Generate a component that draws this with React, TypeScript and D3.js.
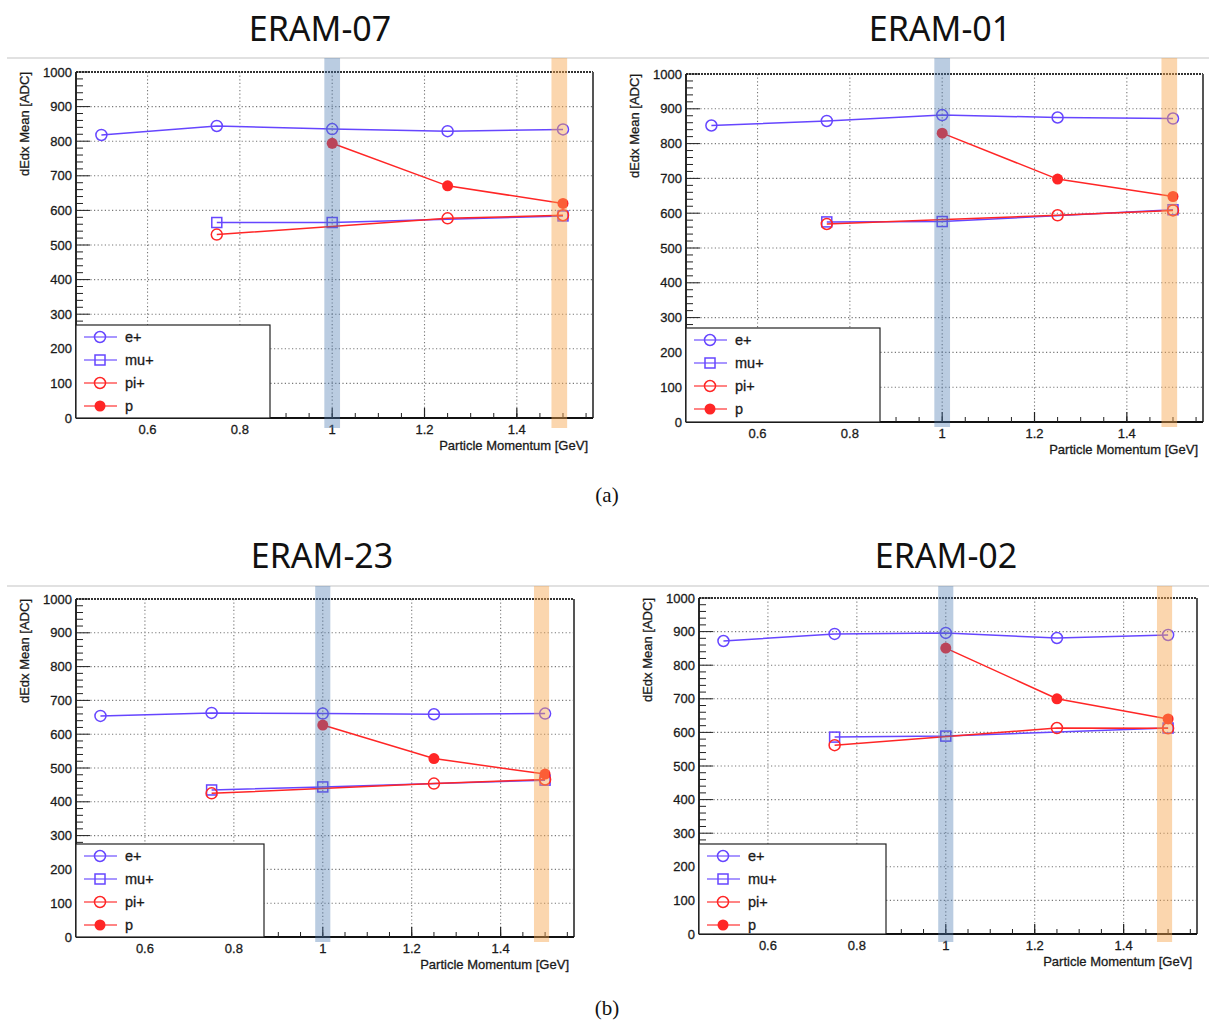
import * as d3 from "d3";

// particle momenta [GeV] at which each species was measured
const momentumE = [0.5, 0.75, 1.0, 1.25, 1.5];
const momentumMu = [0.75, 1.0, 1.5];
const momentumPi = [0.75, 1.25, 1.5];
const momentumP = [1.0, 1.25, 1.5];

// dEdx mean [ADC] per module
const eram07E = [818, 844, 835, 829, 834];
const eram07Mu = [565, 565, 584];
const eram07Pi = [530, 577, 586];
const eram07P = [794, 671, 620];

const eram01E = [852, 865, 882, 875, 872];
const eram01Mu = [575, 576, 610];
const eram01Pi = [569, 594, 608];
const eram01P = [830, 698, 648];

const eram23E = [654, 663, 661, 659, 661];
const eram23Mu = [435, 444, 464];
const eram23Pi = [425, 454, 466];
const eram23P = [627, 528, 482];

const eram02E = [872, 893, 896, 881, 890];
const eram02Mu = [586, 589, 613];
const eram02Pi = [562, 613, 612];
const eram02P = [851, 700, 640];

const xTicks = [0.6, 0.8, 1.0, 1.2, 1.4];
const xTickLabels = ["0.6", "0.8", "1", "1.2", "1.4"];
const yTicks = d3.range(0, 1001, 100);
const bandCenters = [1.0, 1.492];

const BLUE = "#6646ff";
const RED = "#ff2626";
const AXIS_FONT = "'Liberation Sans', Arial, sans-serif";

function series(eV, muV, piV, pV) {
  return [
    { name: "e+", xs: momentumE, ys: eV, color: BLUE, marker: "circle" },
    { name: "mu+", xs: momentumMu, ys: muV, color: BLUE, marker: "square" },
    { name: "pi+", xs: momentumPi, ys: piV, color: RED, marker: "circle" },
    { name: "p", xs: momentumP, ys: pV, color: RED, marker: "dot" },
  ];
}

const panels = [
  { title: "ERAM-07", tx: 320, ty: 41, left: 76, top: 72, right: 593, bottom: 418, bandTop: 58, bandBot: 428, legRight: 270, legTop: 325, data: series(eram07E, eram07Mu, eram07Pi, eram07P) },
  { title: "ERAM-01", tx: 940, ty: 41, left: 686, top: 74, right: 1203, bottom: 422, bandTop: 58, bandBot: 427, legRight: 880, legTop: 328, data: series(eram01E, eram01Mu, eram01Pi, eram01P) },
  { title: "ERAM-23", tx: 322, ty: 568, left: 76, top: 599, right: 574, bottom: 937, bandTop: 586, bandBot: 942, legRight: 264, legTop: 844, data: series(eram23E, eram23Mu, eram23Pi, eram23P) },
  { title: "ERAM-02", tx: 946, ty: 568, left: 699, top: 598, right: 1197, bottom: 934, bandTop: 586, bandBot: 942, legRight: 886, legTop: 844, data: series(eram02E, eram02Mu, eram02Pi, eram02P) },
];

function Marker({ type, x, y, color }) {
  if (type === "square")
    return <rect x={x - 5} y={y - 5} width={10} height={10} fill="none" stroke={color} strokeWidth={1.5} />;
  if (type === "dot") return <circle cx={x} cy={y} r={5.5} fill={color} />;
  return <circle cx={x} cy={y} r={5.5} fill="none" stroke={color} strokeWidth={1.5} />;
}

function Panel({ p }) {
  const x = d3.scaleLinear().domain([0.445, 1.565]).range([p.left, p.right]);
  const y = d3.scaleLinear().domain([0, 1000]).range([p.bottom, p.top]);
  const line = d3
    .line()
    .x((d) => x(d[0]))
    .y((d) => y(d[1]));
  const xMinor = d3.range(0.45, 1.5601, 0.05);
  const yMinor = d3.range(0, 1001, 20);
  const txt = { fontFamily: AXIS_FONT, fill: "#1a1a1a", stroke: "#1a1a1a", strokeWidth: 0.3 };

  return (
    <g>
      <text x={p.tx} y={p.ty} textAnchor="middle" fontFamily="'Noto Sans', sans-serif" fontSize={34} fill="#111">
        {p.title}
      </text>

      {/* grid */}
      {xTicks.map((t) => (
        <line key={"gx" + t} x1={x(t)} x2={x(t)} y1={p.top} y2={p.bottom} stroke="#777" strokeWidth={1.1} strokeDasharray="1.2,2.4" />
      ))}
      {yTicks.slice(1, -1).map((t) => (
        <line key={"gy" + t} x1={p.left} x2={p.right} y1={y(t)} y2={y(t)} stroke="#777" strokeWidth={1.1} strokeDasharray="1.2,2.4" />
      ))}

      {/* frame */}
      <line x1={p.left} x2={p.right} y1={p.top} y2={p.top} stroke="#333" strokeWidth={2} strokeDasharray="2,1" />
      <line x1={p.right} x2={p.right} y1={p.top} y2={p.bottom} stroke="#555" strokeWidth={2} />
      <line x1={p.left} x2={p.left} y1={p.top} y2={p.bottom} stroke="#111" strokeWidth={1.8} />
      <line x1={p.left} x2={p.right} y1={p.bottom} y2={p.bottom} stroke="#111" strokeWidth={1.8} />

      {/* ticks */}
      {yMinor.map((t) => (
        <line key={"ym" + t} x1={p.left} x2={p.left + (t % 100 === 0 ? 14 : 7)} y1={y(t)} y2={y(t)} stroke="#222" strokeWidth={1} />
      ))}
      {xMinor.map((t) => (
        <line key={"xm" + t} x1={x(t)} x2={x(t)} y1={p.bottom} y2={p.bottom - 5} stroke="#222" strokeWidth={1} />
      ))}
      {xTicks.map((t) => (
        <line key={"xM" + t} x1={x(t)} x2={x(t)} y1={p.bottom} y2={p.bottom - 10} stroke="#222" strokeWidth={1.2} />
      ))}

      {/* tick labels */}
      {yTicks.map((t) => (
        <text key={"yl" + t} x={p.left - 4} y={y(t) + 4.5} textAnchor="end" fontSize={13} {...txt}>
          {t}
        </text>
      ))}
      {xTicks.map((t, i) => (
        <text key={"xl" + t} x={x(t)} y={p.bottom + 16} textAnchor="middle" fontSize={13} {...txt}>
          {xTickLabels[i]}
        </text>
      ))}
      <text x={p.right - 5} y={p.bottom + 32} textAnchor="end" fontSize={13} {...txt}>
        Particle Momentum [GeV]
      </text>
      <text transform={`translate(${p.left - 47},${p.top}) rotate(-90)`} textAnchor="end" fontSize={13} {...txt}>
        dEdx Mean [ADC]
      </text>

      {/* legend */}
      <rect x={p.left} y={p.legTop} width={p.legRight - p.left} height={p.bottom - p.legTop} fill="#fff" stroke="#222" strokeWidth={1.2} />
      {p.data.map((s, i) => {
        const ry = p.legTop + 12 + 23 * i;
        return (
          <g key={"lg" + s.name}>
            <line x1={p.left + 8} x2={p.left + 41} y1={ry} y2={ry} stroke={s.color} strokeWidth={1.5} opacity={0.75} />
            <Marker type={s.marker} x={p.left + 24} y={ry} color={s.color} />
            <text x={p.left + 49} y={ry + 5} fontSize={14.5} {...txt}>
              {s.name}
            </text>
          </g>
        );
      })}

      {/* series */}
      {p.data.map((s) => (
        <g key={"s" + s.name}>
          <path d={line(s.xs.map((v, i) => [v, s.ys[i]]))} fill="none" stroke={s.color} strokeWidth={1.5} />
          {s.xs.map((v, i) => (
            <Marker key={i} type={s.marker} x={x(v)} y={y(s.ys[i])} color={s.color} />
          ))}
        </g>
      ))}

      {/* highlight bands */}
      {bandCenters.map((c, i) => (
        <rect
          key={"b" + i}
          x={x(c - 0.017)}
          y={p.bandTop}
          width={x(c + 0.017) - x(c - 0.017)}
          height={p.bandBot - p.bandTop}
          fill={i === 0 ? "#4a78b0" : "#f7a34c"}
          opacity={i === 0 ? 0.38 : 0.45}
        />
      ))}
    </g>
  );
}

export default function App() {
  return (
    <svg width={1209} height={1023} style={{ position: "absolute", left: 0, top: 0, background: "#fff" }}>
      <line x1={7} x2={1209} y1={58} y2={58} stroke="#c4c4c4" strokeWidth={1.2} />
      <line x1={7} x2={1209} y1={586} y2={586} stroke="#c4c4c4" strokeWidth={1.2} />
      {panels.map((p) => (
        <Panel key={p.title} p={p} />
      ))}
      <text x={607} y={502} textAnchor="middle" fontFamily="'Liberation Serif', serif" fontSize={21} fill="#111">
        (a)
      </text>
      <text x={607} y={1015} textAnchor="middle" fontFamily="'Liberation Serif', serif" fontSize={21} fill="#111">
        (b)
      </text>
    </svg>
  );
}
